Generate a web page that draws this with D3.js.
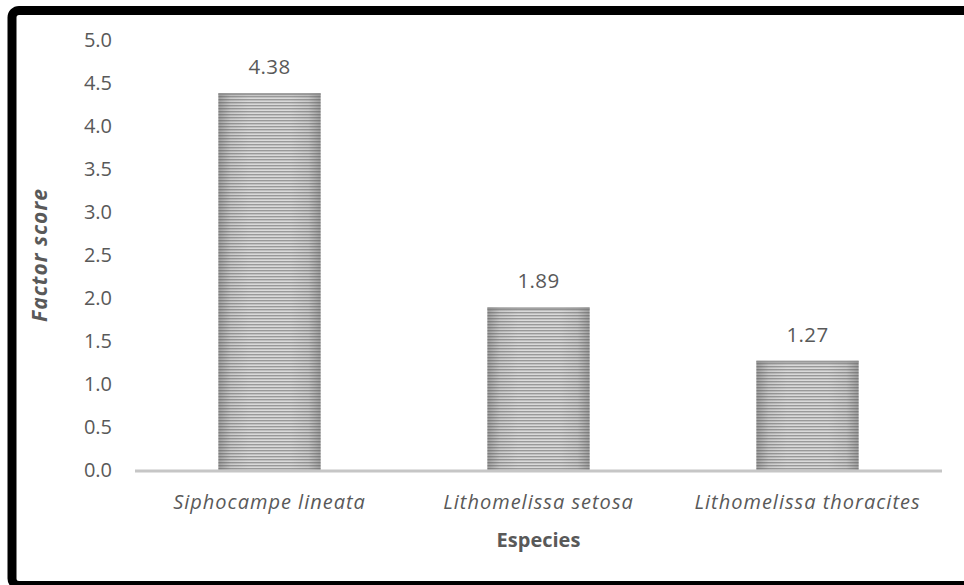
<!DOCTYPE html>
<html>
<head>
<meta charset="utf-8">
<script src="https://cdn.jsdelivr.net/npm/d3@7"></script>
<style>
  html, body { margin: 0; padding: 0; background: #fff; }
  svg { display: block; }
  text { font-family: "Open Sans", "Noto Sans", sans-serif; fill: #595959; }
</style>
</head>
<body>
<svg id="chart" width="964" height="585"></svg>
<script>
// Factor scores per species
const species = ["Siphocampe lineata", "Lithomelissa setosa", "Lithomelissa thoracites"];
const scores = [4.38, 1.89, 1.27];
const yTicks = [0, 0.5, 1, 1.5, 2, 2.5, 3, 3.5, 4, 4.5, 5];

const svg = d3.select("#chart");
const W = 964, H = 585;
const plot = { left: 135, right: 942, top: 40, bottom: 470 };

// frame around the chart area
svg.append("rect")
  .attr("x", 12).attr("y", 10.5)
  .attr("width", W + 20).attr("height", 575)
  .attr("rx", 7)
  .attr("fill", "none")
  .attr("stroke", "#000")
  .attr("stroke-width", 9);

const defs = svg.append("defs");

// horizontal line fill
const pat = defs.append("pattern")
  .attr("id", "hstripes")
  .attr("patternUnits", "userSpaceOnUse")
  .attr("width", 6).attr("height", 3);
pat.append("rect").attr("width", 6).attr("height", 3).attr("fill", "#dadada");
pat.append("rect").attr("width", 6).attr("height", 1.4).attr("fill", "#999");

// shading towards the bar's sides
const sideGrad = defs.append("linearGradient")
  .attr("id", "sideShade").attr("x1", 0).attr("x2", 1).attr("y1", 0).attr("y2", 0);
[[0, 0.45], [0.12, 0.12], [0.3, 0], [0.7, 0], [0.88, 0.12], [1, 0.45]].forEach(([o, a]) => {
  sideGrad.append("stop").attr("offset", o).attr("stop-color", "#555").attr("stop-opacity", a);
});

const x = d3.scaleBand()
  .domain(species)
  .range([plot.left, plot.right])
  .paddingInner(0.62)
  .paddingOuter(0.31);

const y = d3.scaleLinear()
  .domain([0, 5])
  .range([plot.bottom, plot.top]);

// y axis labels (no axis line)
const yAxis = d3.axisLeft(y)
  .tickValues(yTicks)
  .tickFormat(d3.format(".1f"))
  .tickSize(0)
  .tickPadding(0);
const gy = svg.append("g")
  .attr("transform", `translate(112,0)`)
  .call(yAxis);
gy.select(".domain").remove();
gy.selectAll("text")
  .style("font-size", "20px")
  .attr("fill", "#595959")
  .attr("dy", "0.34em");

// bars
const bars = svg.append("g").selectAll("g.bar")
  .data(species.map((s, i) => ({ s, v: scores[i] })))
  .join("g").attr("class", "bar");

bars.append("rect")
  .attr("x", d => x(d.s))
  .attr("y", d => y(d.v))
  .attr("width", x.bandwidth())
  .attr("height", d => y(0) - y(d.v))
  .attr("fill", "url(#hstripes)");
bars.append("rect")
  .attr("x", d => x(d.s))
  .attr("y", d => y(d.v))
  .attr("width", x.bandwidth())
  .attr("height", d => y(0) - y(d.v))
  .attr("fill", "url(#sideShade)");
bars.append("rect")
  .attr("x", d => x(d.s))
  .attr("y", d => y(d.v))
  .attr("width", x.bandwidth())
  .attr("height", 2)
  .attr("fill", "#8a8a8a")
  .attr("opacity", 0.7);

// value labels
bars.append("text")
  .attr("x", d => x(d.s) + x.bandwidth() / 2)
  .attr("y", d => y(d.v) - 26)
  .attr("dy", "0.34em")
  .attr("text-anchor", "middle")
  .style("font-size", "20.5px")
  .style("letter-spacing", "0.4px")
  .text(d => d.v.toFixed(2));

// baseline
svg.append("line")
  .attr("x1", plot.left).attr("x2", plot.right)
  .attr("y1", y(0) + 1).attr("y2", y(0) + 1)
  .attr("stroke", "#c6c6c6")
  .attr("stroke-width", 3);

// category labels
const xAxis = d3.axisBottom(x).tickSize(0).tickPadding(0);
const gx = svg.append("g")
  .attr("transform", `translate(0,${plot.bottom})`)
  .call(xAxis);
gx.select(".domain").remove();
gx.selectAll("text")
  .attr("y", 32)
  .attr("dy", "0.34em")
  .attr("fill", "#595959")
  .style("font-size", "20px")
  .style("letter-spacing", "1px")
  .style("font-style", "italic");

// axis titles
svg.append("text")
  .attr("x", (plot.left + plot.right) / 2)
  .attr("y", 540)
  .attr("dy", "0.34em")
  .attr("text-anchor", "middle")
  .style("font-size", "20px")
  .style("font-weight", "bold")
  .text("Especies");

svg.append("text")
  .attr("transform", `translate(40,${(plot.top + plot.bottom) / 2}) rotate(-90)`)
  .attr("dy", "0.34em")
  .attr("text-anchor", "middle")
  .style("font-size", "21px")
  .style("letter-spacing", "1px")
  .style("font-weight", "bold")
  .style("font-style", "italic")
  .text("Factor score");
</script>
</body>
</html>
